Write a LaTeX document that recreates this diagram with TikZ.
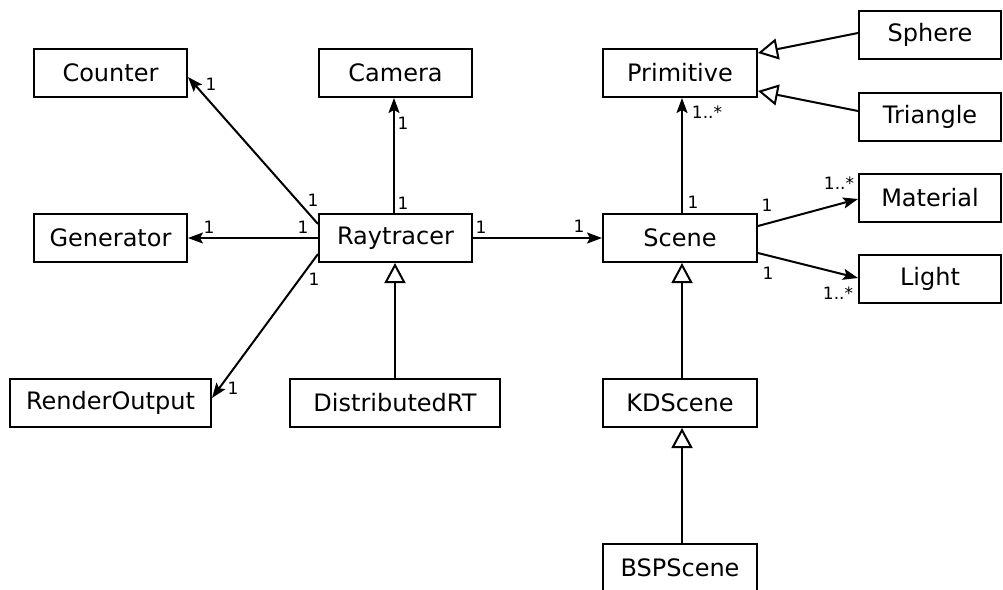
\documentclass[tikz,border=0pt]{standalone}
\usepackage{fontspec}
\setmainfont{DejaVu Sans}
\usetikzlibrary{arrows.meta,calc}
\begin{document}
\begin{tikzpicture}[x=1pt,y=-1pt,
  cls/.style={draw, line width=2pt, minimum height=48pt, inner sep=0pt, font=\fontsize{24}{28}\selectfont},
  lbl/.style={font=\fontsize{17}{20}\selectfont, inner sep=0pt},
  assoc/.style={line width=2pt, -{Stealth[length=15pt,width=11pt,inset=3pt]}},
  inherit/.style={line width=2pt, -{Triangle[open,length=20pt,width=21pt,fill=white]}}]
\useasboundingbox (0,0) rectangle (1003,589);
\clip (0,0) rectangle (1003,589);
% classes
\node[cls, minimum width=153pt] (Counter) at (110.5,73) {Counter};
\node[cls, minimum width=153pt] (Camera) at (395.5,73) {Camera};
\node[cls, minimum width=153pt] (Generator) at (110.5,238) {Generator};
\node[cls, minimum width=153pt] (Raytracer) at (395.5,238) {Raytracer};
\node[cls, minimum width=201pt] (RenderOutput) at (110.5,403) {RenderOutput};
\node[cls, minimum width=210pt] (DistributedRT) at (395,403) {DistributedRT};
\node[cls, minimum width=154pt] (Primitive) at (680,73) {Primitive};
\node[cls, minimum width=154pt] (Scene) at (680,238) {Scene};
\node[cls, minimum width=154pt] (KDScene) at (680,403) {KDScene};
\node[cls, minimum width=154pt] (BSPScene) at (680,568) {BSPScene};
\node[cls, minimum width=142pt] (Sphere) at (930,35) {Sphere};
\node[cls, minimum width=142pt] (Triangle) at (930,117) {Triangle};
\node[cls, minimum width=142pt] (Material) at (930,198) {Material};
\node[cls, minimum width=142pt] (Light) at (930,279) {Light};
% connectors
\draw[assoc] ($(Raytracer.west)+(0,-14)$) -- ($(Counter.east)+(0,4)$);
\draw[assoc] ($(Raytracer.north)+(-1.5,0)$) -- ($(Camera.south)+(-1.5,0)$);
\draw[assoc] (Raytracer.west) -- (Generator.east);
\draw[assoc] ($(Raytracer.west)+(0,16)$) -- ($(RenderOutput.east)+(0,-5)$);
\draw[inherit] (DistributedRT.north) -- (DistributedRT.north |- Raytracer.south);
\draw[assoc] (Raytracer.east) -- (Scene.west);
\draw[assoc] ($(Scene.north)+(2,0)$) -- ($(Primitive.south)+(2,0)$);
\draw[inherit] ($(Sphere.west)+(0,-2)$) -- ($(Primitive.east)+(0,-20)$);
\draw[inherit] ($(Triangle.west)+(0,-6)$) -- ($(Primitive.east)+(0,18)$);
\draw[assoc] ($(Scene.east)+(0,-12)$) -- ($(Material.west)+(0,1)$);
\draw[assoc] ($(Scene.east)+(0,15)$) -- ($(Light.west)+(0,-1)$);
\draw[inherit] ($(KDScene.north)+(2,0)$) -- ($(Scene.south)+(2,0)$);
\draw[inherit] ($(BSPScene.north)+(2,0)$) -- ($(KDScene.south)+(2,0)$);
% multiplicities
\node[lbl] (l1) at (211,84) {1};
\node[lbl] (l2) at (313,200) {1};
\node[lbl] (l3) at (403,123) {1};
\node[lbl] (l4) at (403,203) {1};
\node[lbl] (l5) at (209,227) {1};
\node[lbl] (l6) at (303,227) {1};
\node[lbl] (l7) at (481,227) {1};
\node[lbl] (l8) at (579,226) {1};
\node[lbl] (l9) at (314,279) {1};
\node[lbl] (l10) at (233,388) {1};
\node[lbl] (l11) at (707,112) {1..*};
\node[lbl] (l12) at (693,202) {1};
\node[lbl] (l13) at (767,205) {1};
\node[lbl] (l14) at (839,183) {1..*};
\node[lbl] (l15) at (768,273) {1};
\node[lbl] (l16) at (838,293) {1..*};
\end{tikzpicture}
\end{document}
